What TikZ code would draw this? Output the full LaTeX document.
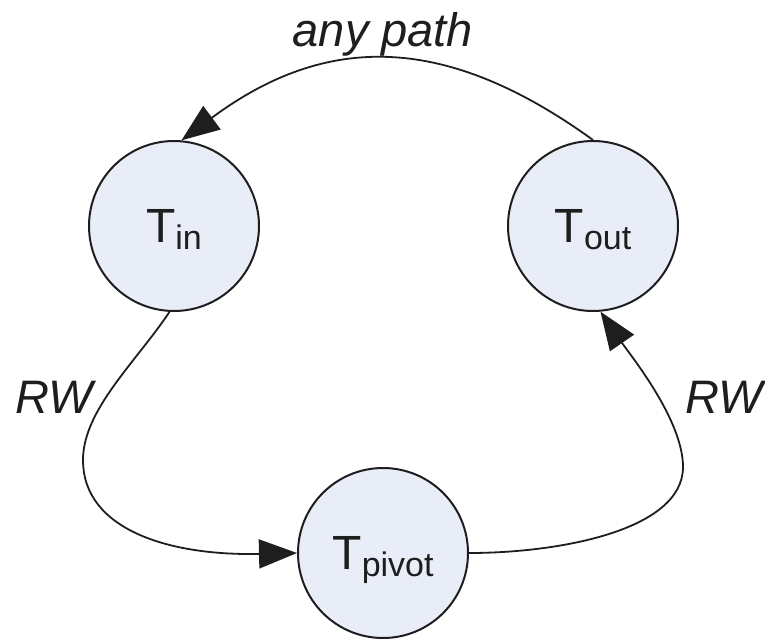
\documentclass[tikz,border=0pt]{standalone}
\usepackage{fontspec}
\setmainfont{Liberation Sans}
\usetikzlibrary{arrows.meta}
\definecolor{nodefill}{RGB}{232,237,248}
\definecolor{ink}{RGB}{30,30,30}
\newcommand\tsub[1]{\raisebox{-7pt}{\fontsize{34}{40}\selectfont #1}}
\begin{document}
\begin{tikzpicture}[x=1pt,y=-1pt,
  state/.style={circle, draw=ink, line width=2pt, fill=nodefill, minimum size=170pt,
    inner sep=0pt, text height=40pt, text depth=8pt, text=ink,
    font=\fontsize{48}{58}\selectfont},
  conn/.style={draw=ink, line width=1.8pt, -{Triangle[length=38pt,width=29pt]}},
  lbl/.style={font=\fontsize{47}{58}\selectfont\itshape, text=ink, inner sep=0pt}]
\useasboundingbox (0,0) rectangle (765,639);
\node[state] (Tin) at (174,226) {T\tsub{in}};
\node[state] (Tout) at (593,226) {T\tsub{out}};
\node[state] (Tpivot) at (383,553) {T\tsub{pivot}};
\draw[conn] (Tout.north) .. controls (445,33) and (326,33) .. (Tin.85);
\draw[conn] (Tin.267) .. controls (136,362) and (83,410) .. (83,460)
  .. controls (83,530) and (170,556) .. (Tpivot.west);
\draw[conn] (Tpivot.east) .. controls (560,553) and (683,530) .. (683,467)
  .. controls (683,420) and (631,356) .. (Tout.275);
\node[lbl, anchor=base] (anypath) at (383,47) {any path};
\node[lbl, anchor=base west] (rwL) at (15,413) {RW};
\node[lbl, anchor=base east] (rwR) at (763,413) {RW};
\end{tikzpicture}
\end{document}
